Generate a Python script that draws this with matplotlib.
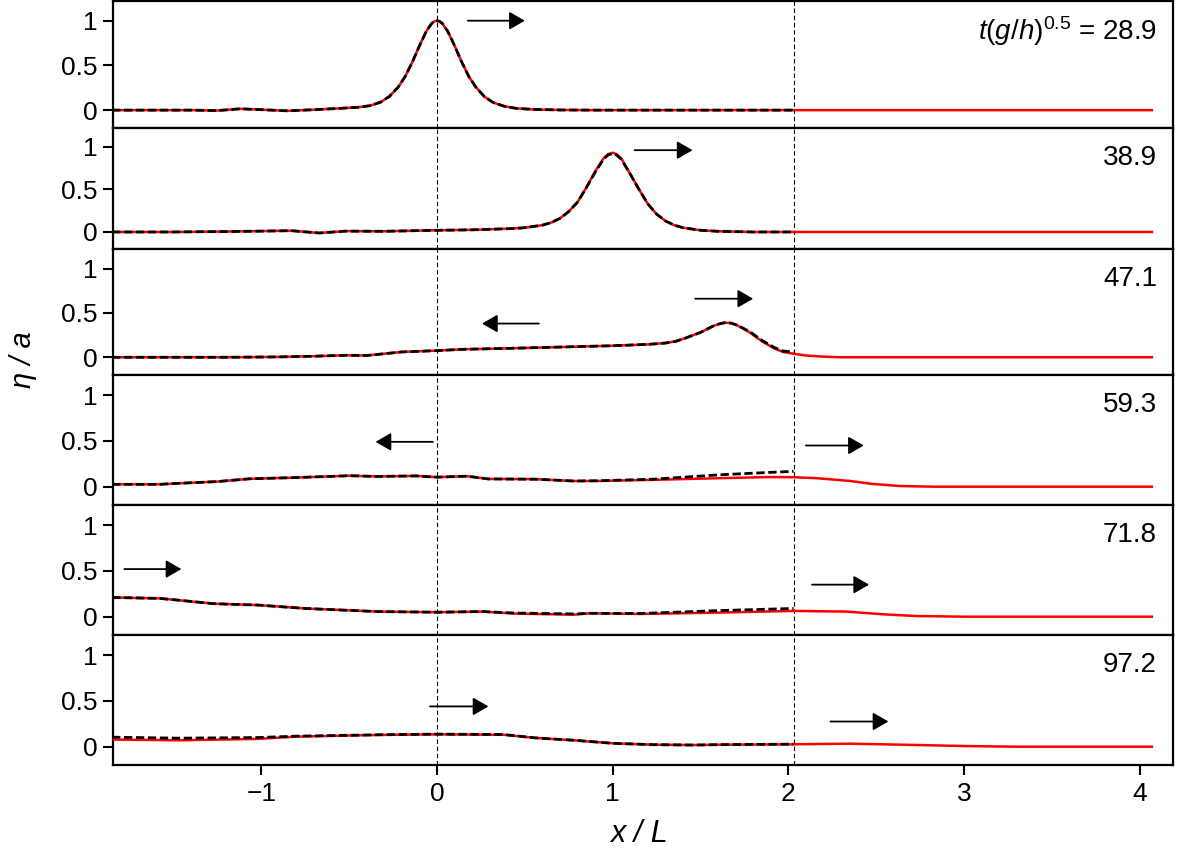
import matplotlib
matplotlib.use("Agg")
import matplotlib.pyplot as plt

plt.rcParams['font.family'] = ['Liberation Sans', 'DejaVu Sans']
plt.rcParams['mathtext.fontset'] = 'custom'
plt.rcParams['mathtext.rm'] = 'Liberation Sans'
plt.rcParams['mathtext.it'] = 'Liberation Sans:italic'
plt.rcParams['mathtext.default'] = 'it'

# dimensionless times shown in each panel
times = ['28.9', '38.9', '47.1', '59.3', '71.8', '97.2']

# panel 1
x1 = [-1.85, -1.6, -1.4, -1.25, -1.12, -1.0, -0.85, -0.7, -0.55, -0.45, -0.38, -0.32, -0.27,
      -0.22, -0.18, -0.14, -0.1, -0.06, -0.03, -0.015, 0.0, 0.015, 0.03, 0.06, 0.1, 0.14, 0.18,
      0.22, 0.27, 0.32, 0.38, 0.45, 0.55, 0.7, 0.9, 1.2, 2.03, 3.0, 4.07]
sim1 = [0.0, 0.0, 0.0, -0.005, 0.015, 0.005, -0.008, 0.005, 0.02, 0.032, 0.05, 0.09, 0.155,
        0.26, 0.38, 0.54, 0.72, 0.885, 0.97, 0.992, 1.0, 0.992, 0.97, 0.885, 0.72, 0.54, 0.38,
        0.26, 0.15, 0.085, 0.045, 0.02, 0.008, 0.002, 0.0, 0.0, 0.0, 0.0, 0.0]
exp1 = [0.0, 0.0, 0.0, -0.005, 0.015, 0.005, -0.008, 0.005, 0.02, 0.032, 0.05, 0.09, 0.155,
        0.26, 0.38, 0.54, 0.72, 0.885, 0.97, 0.992, 1.0, 0.992, 0.97, 0.885, 0.72, 0.54, 0.38,
        0.26, 0.15, 0.085, 0.045, 0.02, 0.008, 0.002, 0.0, 0.0, 0.0]

# panel 2
x2 = [-1.85, -1.5, -1.2, -1.0, -0.83, -0.67, -0.52, -0.3, 0.0, 0.2, 0.43, 0.5, 0.6, 0.65,
      0.7, 0.75, 0.8, 0.85, 0.9, 0.95, 0.975, 1.0, 1.025, 1.05, 1.1, 1.15, 1.2, 1.25, 1.3,
      1.35, 1.4, 1.5, 1.6, 1.8, 2.03, 3.0, 4.07]
sim2 = [0.0, 0.0, 0.005, 0.01, 0.015, -0.012, 0.01, 0.008, 0.02, 0.025, 0.04, 0.05, 0.08, 0.11,
        0.16, 0.24, 0.35, 0.52, 0.71, 0.87, 0.915, 0.93, 0.91, 0.86, 0.68, 0.5, 0.33, 0.21,
        0.13, 0.08, 0.05, 0.02, 0.008, 0.0, 0.0, 0.0, 0.0]
exp2 = [0.0, 0.0, 0.005, 0.01, 0.015, -0.012, 0.01, 0.008, 0.02, 0.025, 0.04, 0.05, 0.08, 0.11,
        0.16, 0.24, 0.35, 0.52, 0.7, 0.86, 0.905, 0.92, 0.9, 0.85, 0.68, 0.5, 0.33, 0.21,
        0.13, 0.08, 0.05, 0.02, 0.008, 0.0, 0.0]

# panel 3
x3 = [-1.85, -1.2, -0.9, -0.7, -0.52, -0.4, -0.3, -0.2, 0.0, 0.15, 0.4, 0.7, 1.0, 1.2, 1.3,
      1.36, 1.42, 1.5, 1.57, 1.605, 1.64, 1.675, 1.71, 1.78, 1.85, 1.92, 1.97, 2.03, 2.1, 2.2,
      2.3, 3.0, 4.07]
sim3 = [0.0, 0.0, 0.004, 0.012, 0.022, 0.02, 0.04, 0.06, 0.075, 0.09, 0.1, 0.115, 0.13, 0.145,
        0.16, 0.18, 0.22, 0.28, 0.35, 0.375, 0.39, 0.385, 0.36, 0.28, 0.18, 0.1, 0.06, 0.04,
        0.02, 0.007, 0.0, 0.0, 0.0]
exp3 = [0.0, 0.0, 0.004, 0.012, 0.022, 0.02, 0.04, 0.06, 0.075, 0.09, 0.1, 0.115, 0.13, 0.145,
        0.16, 0.18, 0.22, 0.28, 0.35, 0.375, 0.39, 0.385, 0.36, 0.29, 0.19, 0.11, 0.07, 0.06]

# panel 4
x4 = [-1.85, -1.58, -1.47, -1.25, -1.07, -0.8, -0.5, -0.34, -0.12, 0.0, 0.17, 0.29, 0.56,
      0.78, 0.92, 1.23, 1.61, 1.88, 2.03, 2.16, 2.35, 2.48, 2.64, 2.83, 3.5, 4.07]
sim4 = [0.026, 0.026, 0.037, 0.056, 0.086, 0.1, 0.12, 0.112, 0.118, 0.104, 0.115, 0.085,
        0.082, 0.062, 0.063, 0.075, 0.093, 0.105, 0.104, 0.093, 0.063, 0.03, 0.007, 0.0, 0.0, 0.0]
exp4 = [0.026, 0.026, 0.037, 0.056, 0.086, 0.1, 0.12, 0.112, 0.118, 0.104, 0.115, 0.085,
        0.082, 0.062, 0.065, 0.082, 0.13, 0.155, 0.168]

# panel 5
x5 = [-1.85, -1.58, -1.47, -1.27, -1.02, -0.75, -0.34, 0.0, 0.26, 0.44, 0.78, 0.87, 1.16,
      1.61, 2.03, 2.33, 2.54, 2.73, 3.01, 4.07]
sim5 = [0.21, 0.2, 0.18, 0.142, 0.127, 0.09, 0.056, 0.049, 0.056, 0.034, 0.022, 0.037, 0.03,
        0.045, 0.063, 0.056, 0.026, 0.007, 0.0, 0.0]
exp5 = [0.21, 0.2, 0.18, 0.142, 0.127, 0.09, 0.056, 0.049, 0.056, 0.04, 0.03, 0.037, 0.035,
        0.067, 0.09]

# panel 6
x6 = [-1.85, -1.47, -1.02, -0.8, -0.34, 0.0, 0.38, 0.56, 0.78, 1.0, 1.23, 1.46, 1.61, 2.03,
      2.35, 2.64, 3.01, 3.3, 4.07]
sim6 = [0.078, 0.07, 0.085, 0.11, 0.128, 0.135, 0.13, 0.096, 0.07, 0.037, 0.022, 0.018, 0.022,
        0.026, 0.033, 0.022, 0.007, 0.0, 0.0]
exp6 = [0.104, 0.093, 0.1, 0.115, 0.13, 0.137, 0.133, 0.096, 0.07, 0.037, 0.022, 0.018, 0.022,
        0.028]

xs = [x1, x2, x3, x4, x5, x6]
sims = [sim1, sim2, sim3, sim4, sim5, sim6]
exps = [exp1, exp2, exp3, exp4, exp5, exp6]

# propagation arrows per panel: (tail x, head x, y)
arrows = [
    [(0.175, 0.50, 1.0)],
    [(1.125, 1.455, 0.96)],
    [(1.47, 1.80, 0.66), (0.58, 0.256, 0.38)],
    [(-0.024, -0.35, 0.49), (2.10, 2.43, 0.45)],
    [(-1.78, -1.455, 0.52), (2.135, 2.46, 0.35)],
    [(-0.04, 0.293, 0.44), (2.24, 2.57, 0.275)],
]

fig = plt.figure(figsize=(11.77, 8.55), dpi=100)
heights = [127, 121, 126, 130, 130, 130]
gs = fig.add_gridspec(6, 1, height_ratios=heights, hspace=0,
                      left=0.0958, right=0.9966, top=0.9988, bottom=1 - 765 / 855)

for i in range(6):
    ax = fig.add_subplot(gs[i])
    ax.plot(xs[i], sims[i], color='red', lw=1.8, zorder=3)
    ax.plot(xs[i][:len(exps[i])], exps[i], color='black', lw=2.0, dashes=(3, 1.3), zorder=4)
    for xv in (0.0, 2.03):
        ax.axvline(xv, color='black', lw=0.8, dashes=(4, 2.5), zorder=2)
    for tx, hx, yy in arrows[i]:
        ax.annotate('', xy=(hx, yy), xytext=(tx, yy),
                    arrowprops=dict(arrowstyle='-|>,head_length=0.47,head_width=0.27',
                                    mutation_scale=20, color='black', lw=1.3,
                                    shrinkA=0, shrinkB=0), zorder=5)
    label = times[i]
    if i == 0:
        label = r'$t(g/h)^{0.5}$ = ' + times[i]
    ax.annotate(label, xy=(0.985, 1.0), xycoords='axes fraction',
                xytext=(0, -21.5), textcoords='offset points',
                ha='right', va='center', fontsize=20)
    ax.set_xlim(-1.846, 4.19)
    ax.set_ylim(-0.2, 1.22)
    ax.set_yticks([0, 0.5, 1])
    ax.set_yticklabels(['0', '0.5', '1'])
    ax.set_xticks([-1, 0, 1, 2, 3, 4])
    for s in ax.spines.values():
        s.set_linewidth(1.6)
    ax.tick_params(direction='out', length=7, width=1.5, labelsize=19)
    ax.tick_params(axis='y', pad=4)
    ax.tick_params(axis='x', pad=5)
    if i < 5:
        ax.tick_params(axis='x', bottom=False, labelbottom=False)
    else:
        ax.set_xticklabels(['\u22121', '0', '1', '2', '3', '4'])

fig.text(0.543, 1 - 834 / 855, 'x / L', style='italic', fontsize=22, ha='center', va='center')
fig.text(0.0195, 1 - 360 / 855, '\u03b7 / a', style='italic', fontsize=21,
         ha='center', va='center', rotation=90)

fig.savefig('out.png', dpi=100)
